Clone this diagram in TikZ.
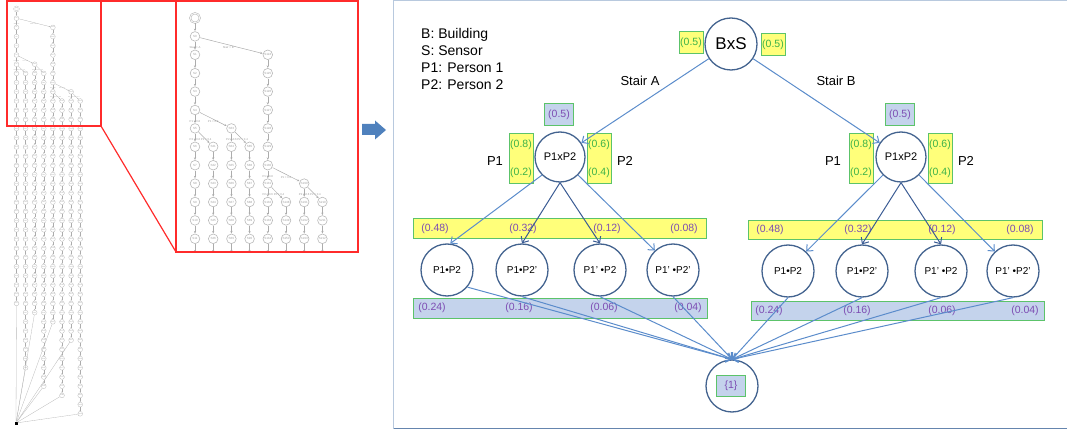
\documentclass[tikz,border=0pt]{standalone}
\usepackage{fontspec}
\setmainfont{Liberation Sans}
\usetikzlibrary{arrows.meta}

\definecolor{stateline}{HTML}{43638F}
\definecolor{flowblue}{HTML}{5B8CCB}
\definecolor{flowdark}{HTML}{3B5C94}
\definecolor{padedge}{HTML}{5CC36A}
\definecolor{padgreen}{HTML}{3CB24A}
\definecolor{padpurple}{HTML}{7D4DB3}
\definecolor{padyellow}{HTML}{FFFF7A}
\definecolor{padblue}{HTML}{C4D3EC}
\definecolor{framelight}{HTML}{B8C9DE}
\definecolor{framedark}{HTML}{6585AE}
\definecolor{zoomred}{HTML}{FF2B2B}
\definecolor{blockblue}{HTML}{4F81BD}

\tikzset{
  state/.style={circle, draw=stateline, line width=1.3pt, fill=white, minimum size=52pt, inner sep=0pt},
  yellowpad/.style={draw=padedge, line width=1pt, fill=padyellow, inner sep=0.5pt, text=padgreen, font=\fontsize{10.5}{12}\selectfont},
  bluepad/.style={draw=padedge, line width=1pt, fill=padblue, inner sep=0.5pt, text=padpurple, font=\fontsize{10.5}{12}\selectfont},
  barnum/.style={text=padpurple, inner sep=0pt, font=\fontsize{10.5}{12}\selectfont},
  flow/.style={draw=flowblue, line width=1pt, -{Straight Barb[length=5pt,width=9pt]}},
  flowin/.style={flow, draw=flowdark},
  caption/.style={inner sep=0pt, font=\fontsize{13}{15}\selectfont},
  tnode/.style={circle, draw=gray!55, fill=white, line width=0.3pt, minimum size=4.8pt, inner sep=0pt, text=gray!75, font=\fontsize{1.5}{2}\selectfont},
  troot/.style={tnode, double=white, double distance=0.7pt},
  tedge/.style={draw=gray!65, line width=0.25pt, -{Stealth[length=1.2pt,width=1.1pt]}},
  tlink/.style={draw=gray!55, line width=0.3pt},
  tlabel/.style={inner sep=0.2pt, text=gray!80, font=\fontsize{1.4}{2}\selectfont},
}

\newcommand\treecut{99}
\newcommand\statetree{%
  \ifnum\treecut>50 \node[fill=black, minimum size=3pt, inner sep=0pt] (sink) at (16,423) {};\fi
  \node[troot] (t0) at (16.5,9) {};
  \foreach \colno/\rowa/\rowb/\sbase in {1/1/32/0, 2/7/39/21, 3/6/33/63, 4/7/41/85,
      5/2/34/124, 6/10/42/148, 7/9/36/190, 8/10/44/210}{
    \pgfmathtruncatemacro\rowd{min(\rowb,\treecut)}
    \foreach \k in {\rowa,...,\rowd}{
      \pgfmathtruncatemacro\snum{\sbase+\k-\rowa}
      \node[tnode] (t\colno-\k) at ({16.5+9.1*(\colno-1)},{9+9.2*\k}) {S\snum};
    }
    \pgfmathtruncatemacro\rowc{\rowa+1}
    \foreach \k [remember=\k as \prevk (initially \rowa)] in {\rowc,...,\rowd}
      \draw[tedge] (t\colno-\prevk) -- (t\colno-\k);
    \ifnum\rowb>\treecut
      \coordinate (t\colno-out) at ({16.5+9.1*(\colno-1)},{9+9.2*\treecut+6.8});
      \draw[tedge] (t\colno-\treecut) -- (t\colno-out);
    \else
      \draw[tlink] (t\colno-\rowb) -- (sink);
    \fi
  }
  \draw[tedge] (t0) -- (t1-1);
  \draw[tedge] (t1-1) -- node[tlabel, pos=0.45, below=0.6pt] (lb-b) {Stair = B} (t5-2);
  \path (t1-1) -- node[tlabel, pos=0.7] (lb-a) {Stair = A} (t1-2);
  \draw[tedge] (t1-5) -- node[tlabel, pos=0.5, below=0.4pt] (lb-c) {P1 = 0.2} (t3-6);
  \path (t1-5) -- node[tlabel, pos=0.75] (lb-d) {P1 = 0.8} (t1-6);
  \draw[tedge] (t1-6) -- (t2-7);
  \draw[tedge] (t3-6) -- (t4-7);
  \path (t1-6) -- node[tlabel, pos=0.75] (lb-e) {P2 = 0.6} (t1-7);
  \path (t1-6) -- node[tlabel, pos=0.7] (lb-f) {P2 = 0.4} (t2-7);
  \path (t3-6) -- node[tlabel, pos=0.75] (lb-g) {P2 = 0.6} (t3-7);
  \path (t3-6) -- node[tlabel, pos=0.7] (lb-h) {P2 = 0.4} (t4-7);
  \draw[tedge] (t5-8) -- node[tlabel, pos=0.5, below=0.4pt] (lb-i) {P1 = 0.2} (t7-9);
  \path (t5-8) -- node[tlabel, pos=0.75] (lb-j) {P1 = 0.8} (t5-9);
  \draw[tedge] (t5-9) -- (t6-10);
  \draw[tedge] (t7-9) -- (t8-10);
  \path (t5-9) -- node[tlabel, pos=0.75] (lb-k) {P2 = 0.6} (t5-10);
  \path (t5-9) -- node[tlabel, pos=0.7] (lb-l) {P2 = 0.4} (t6-10);
  \path (t7-9) -- node[tlabel, pos=0.75] (lb-m) {P2 = 0.6} (t7-10);
  \path (t7-9) -- node[tlabel, pos=0.7] (lb-n) {P2 = 0.4} (t8-10);
}

\begin{document}
\begin{tikzpicture}[x=1pt, y=-1pt]
\useasboundingbox (0,0) rectangle (1067,430);

\statetree
\begin{scope}
  \clip (176,0) rectangle (358,252);
  \begin{scope}[name prefix=z-, shift={(162,0)}, scale=2, transform shape,
      tnode/.append style={line width=0.6pt},
      tedge/.append style={line width=0.5pt, -{Stealth[length=2.4pt,width=2.2pt]}}]
    \renewcommand\treecut{12}
    \statetree
  \end{scope}
\end{scope}
\draw[zoomred, line width=1.5pt] (7,0.8) rectangle (101,126);
\draw[zoomred, line width=1.5pt] (176,0.8) rectangle (358,252);
\draw[zoomred, line width=1.5pt] (101,0.8) -- (176,0.8);
\draw[zoomred, line width=1.2pt] (101,126) -- (176,252);
\fill[blockblue] (362,124) -- (375,124) -- (375,120.5) -- (386,130) -- (375,139.5) -- (375,135) -- (362,135) -- cycle;

\draw[framelight, line width=1.2pt] (1068,0.8) -- (393.5,0.8) -- (393.5,428.5);
\draw[framedark, line width=1.2pt] (393.5,428.5) -- (1068,428.5);

\node[anchor=north west, align=left, inner sep=0pt, font=\fontsize{14}{17}\selectfont] (key) at (421,28)
  {B: Building\\S: Sensor\\P1: Person 1\\P2: Person 2};

\node[state, font=\fontsize{17}{20}\selectfont] (bxs) at (731,44) {BxS};
\node[yellowpad, minimum width=24pt, minimum height=22pt] (bxs-l) at (691,43) {(0.5)};
\node[yellowpad, minimum width=24pt, minimum height=22pt] (bxs-r) at (773,45) {(0.5)};
\node[caption] (stair-a) at (640,81) {Stair A};
\node[caption] (stair-b) at (836,81) {Stair B};

\node[state, minimum size=50pt, font=\fontsize{11}{13}\selectfont] (pa) at (560,157) {P1xP2};
\node[bluepad, minimum width=29pt, minimum height=22pt] (pa-top) at (559,115) {(0.5)};
\node[yellowpad, minimum width=24pt, minimum height=50pt, align=center, font=\fontsize{10.5}{28}\selectfont] (pa-p1) at (521,159) {(0.8)\\(0.2)};
\node[yellowpad, minimum width=24pt, minimum height=50pt, align=center, font=\fontsize{10.5}{28}\selectfont] (pa-p2) at (599,159) {(0.6)\\(0.4)};
\node[caption] (pa-l1) at (495,161) {P1};
\node[caption] (pa-l2) at (625,161) {P2};

\node[state, minimum size=50pt, font=\fontsize{11}{13}\selectfont] (pb) at (901,157) {P1xP2};
\node[bluepad, minimum width=29pt, minimum height=22pt] (pb-top) at (900,115) {(0.5)};
\node[yellowpad, minimum width=24pt, minimum height=50pt, align=center, font=\fontsize{10.5}{28}\selectfont] (pb-p1) at (861,159) {(0.8)\\(0.2)};
\node[yellowpad, minimum width=24pt, minimum height=50pt, align=center, font=\fontsize{10.5}{28}\selectfont] (pb-p2) at (940,159) {(0.6)\\(0.4)};
\node[caption] (pb-l1) at (833,161) {P1};
\node[caption] (pb-l2) at (966,161) {P2};

\node[yellowpad, minimum width=293pt, minimum height=20pt] (bar-ya) at (559.5,229) {};
\foreach \v/\x [count=\i] in {0.48/435, 0.32/523, 0.12/607, 0.08/684}
  \node[barnum] (ya-\i) at (\x,229) {(\v)};
\node[bluepad, minimum width=294pt, minimum height=20pt] (bar-ba) at (560,308) {};
\foreach \v/\x [count=\i] in {0.24/432, 0.16/519, 0.06/604, 0.04/688}
  \node[barnum] (ba-\i) at (\x,308) {(\v)};
\node[yellowpad, minimum width=294pt, minimum height=19pt] (bar-yb) at (895,230) {};
\foreach \v/\x [count=\i] in {0.48/770, 0.32/858, 0.12/942, 0.08/1020}
  \node[barnum] (yb-\i) at (\x,230) {(\v)};
\node[bluepad, minimum width=293pt, minimum height=19pt] (bar-bb) at (897.5,310.5) {};
\foreach \v/\x [count=\i] in {0.24/769, 0.16/857, 0.06/942, 0.04/1025}
  \node[barnum] (bb-\i) at (\x,310.5) {(\v)};

\foreach \lab/\x [count=\i] in {P1•P2/447, P1•P2’/522, P1’ •P2/600, P1’ •P2’/673}
  \node[state, font=\fontsize{10}{12}\selectfont] (ca-\i) at (\x,270) {\lab};
\foreach \lab/\x [count=\i] in {P1•P2/788, P1•P2’/862, P1’ •P2/941, P1’ •P2’/1013}
  \node[state, font=\fontsize{10}{12}\selectfont] (cb-\i) at (\x,271) {\lab};

\node[state] (goal) at (732,386) {};
\node[bluepad, minimum width=29pt, minimum height=21pt] (goal-p) at (731,386) {\{1\}};

\draw[flow] (bxs) -- (pa);
\draw[flow] (bxs) -- (pb);
\draw[flow] (pa.225) -- (ca-1.83);
\draw[flowin] (pa.south) -- (ca-2.north);
\draw[flowin] (pa.south) -- (ca-3.north);
\draw[flow] (pa.315) -- (ca-4.133);
\draw[flow] (pb.225) -- (cb-1.47);
\draw[flowin] (pb.south) -- (cb-2.north);
\draw[flowin] (pb.south) -- (cb-3.north);
\draw[flow] (pb.315) -- (cb-4.133);

\draw[flow] (ca-1.320) -- (goal.north);
\foreach \i in {2,3,4}
  \draw[flow] (ca-\i.south) -- (goal.north);
\foreach \i in {1,...,4}
  \draw[flow] (cb-\i.south) -- (goal.north);
\end{tikzpicture}
\end{document}
